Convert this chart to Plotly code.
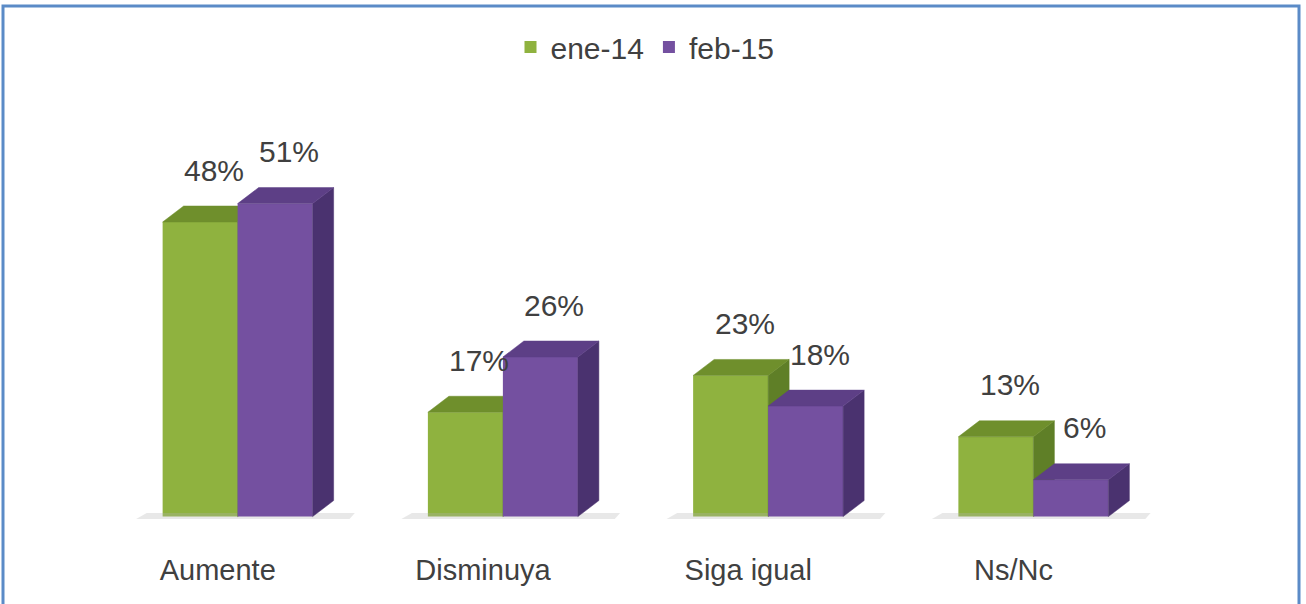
import plotly.graph_objects as go

categories = ["Aumente", "Disminuya", "Siga igual", "Ns/Nc"]
series_names = ["ene-14", "feb-15"]
ene_14 = [48, 17, 23, 13]
feb_15 = [51, 26, 18, 6]

# layout geometry (pixels -> data units)
W, H = 1306, 604
ML, MR, MT, MB = 105, 140, 87, 69
XR = [-0.5, 3.5]
YR = [-3, 70]
px_x = (W - ML - MR) / (XR[1] - XR[0])
px_y = (H - MT - MB) / (YR[1] - YR[0])

bw = 75 / px_x          # bar width
dx = 21 / px_x          # depth offset
dy = 16 / px_y

styles = {
    "ene-14": dict(front="#8FB23F", top="#6F8F2C", side="#5F7F27", offset=-bw),
    "feb-15": dict(front="#7450A0", top="#5D3F86", side="#4A326F", offset=0.0),
}

FONT = "Liberation Sans, Arial, sans-serif"
TXT = "#404040"

fig = go.Figure()


def faces(vals, st):
    tx, ty, sx, sy = [], [], [], []
    for i, v in enumerate(vals):
        x0 = i + st["offset"]
        x1 = x0 + bw
        tx += [x0, x1, x1 + dx, x0 + dx, x0, None]
        ty += [v, v, v + dy, v + dy, v, None]
        sx += [x1, x1 + dx, x1 + dx, x1, x1, None]
        sy += [0, dy, v + dy, v, 0, None]
    return tx, ty, sx, sy


for k, (name, vals) in enumerate(zip(series_names, [ene_14, feb_15])):
    st = styles[name]
    xa, ya = ("x", "y") if k == 0 else ("x2", "y2")
    # soft shadow under the bars
    if k == 0:
        shx, shy = [], []
        for i in range(len(categories)):
            a = i - bw - 0.1
            b = i + bw + dx + 0.06
            shx += [a, b, b + 0.02, a + 0.04, a, None]
            shy += [-0.4, -0.4, 0.6, 0.6, -0.4, None]
        fig.add_trace(go.Scatter(x=shx, y=shy, fill="toself", mode="lines",
                                 line=dict(width=0, color="#E6E6E6"),
                                 fillcolor="rgba(180,180,180,0.3)",
                                 showlegend=False, hoverinfo="skip",
                                 xaxis=xa, yaxis=ya))
    fig.add_trace(go.Bar(x=list(range(len(categories))), y=vals, name=name,
                         width=bw, offset=st["offset"],
                         marker=dict(color=st["front"], line=dict(width=0)),
                         xaxis=xa, yaxis=ya))
    tx, ty, sx, sy = faces(vals, st)
    fig.add_trace(go.Scatter(x=sx, y=sy, fill="toself", mode="lines",
                             line=dict(width=0.5, color=st["side"]),
                             fillcolor=st["side"], showlegend=False,
                             hoverinfo="skip", xaxis=xa, yaxis=ya))
    fig.add_trace(go.Scatter(x=tx, y=ty, fill="toself", mode="lines",
                             line=dict(width=0.5, color=st["top"]),
                             fillcolor=st["top"], showlegend=False,
                             hoverinfo="skip", xaxis=xa, yaxis=ya))
    for i, v in enumerate(vals):
        fig.add_annotation(x=i + st["offset"] + bw / 2, y=v + dy,
                           text=f"{v}%", showarrow=False,
                           xshift=14, yshift=36, yanchor="middle",
                           font=dict(family=FONT, size=30, color=TXT))

border_x0 = (3 - ML) / (W - ML - MR)
border_x1 = (1299 - ML) / (W - ML - MR)
border_y1 = (H - MB - 6) / (H - MT - MB)
fig.add_shape(type="rect", xref="paper", yref="paper",
              x0=border_x0, x1=border_x1, y0=-0.3, y1=border_y1,
              line=dict(color="#5B8BC7", width=3))

fig.update_layout(
    width=W, height=H,
    margin=dict(l=ML, r=MR, t=MT, b=MB),
    paper_bgcolor="white", plot_bgcolor="white",
    showlegend=True,
    legend=dict(orientation="h", x=(645 - ML) / (W - ML - MR), xanchor="center",
                y=1 + (MT - 47) / (H - MT - MB), yanchor="middle",
                font=dict(family=FONT, size=30, color=TXT),
                itemwidth=30, tracegroupgap=0),
    xaxis=dict(range=XR, tickvals=[i - 0.075 for i in range(len(categories))],
               ticktext=categories, showgrid=False, zeroline=False,
               showline=False, ticks="", ticklabelstandoff=15,
               tickfont=dict(family=FONT, size=29, color=TXT)),
    yaxis=dict(range=YR, visible=False),
    xaxis2=dict(range=XR, overlaying="x", visible=False),
    yaxis2=dict(range=YR, overlaying="y", visible=False),
)

fig.write_html("out.html", config={"displayModeBar": False},
               post_script="document.body.style.margin='0';")
